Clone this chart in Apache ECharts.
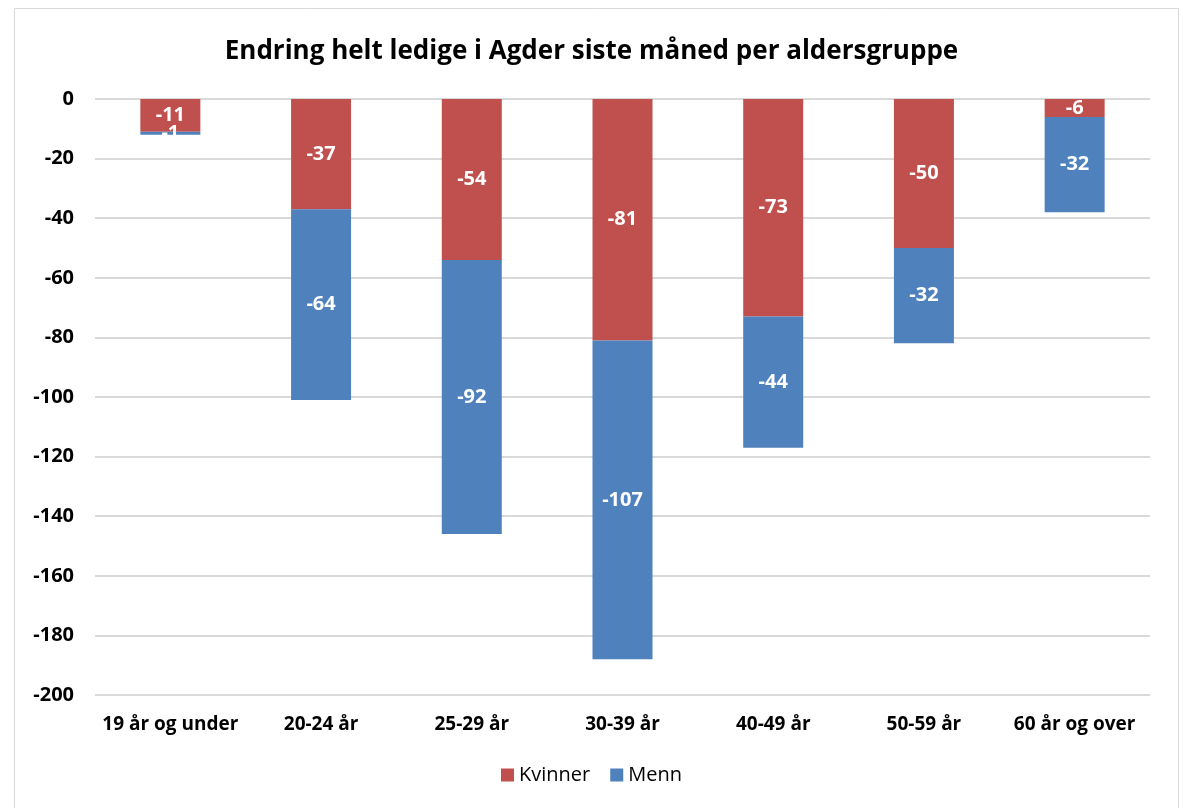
<!DOCTYPE html>
<html><head><meta charset="utf-8">
<script src="https://cdn.jsdelivr.net/npm/echarts@6/dist/echarts.min.js"></script>
<style>html,body{margin:0;padding:0;background:#fff}#c{width:1183px;height:808px}</style>
</head><body><div id="c"></div>
<script>
const categories = ['19 år og under','20-24 år','25-29 år','30-39 år','40-49 år','50-59 år','60 år og over'];
const kvinner = [-11,-37,-54,-81,-73,-50,-6];
const menn = [-1,-64,-92,-107,-44,-32,-32];
const yTicks = {min:-200,max:0,interval:20};
const FONT = '"Open Sans", sans-serif';
const chart = echarts.init(document.getElementById('c'));
const lbl = {show:true,position:'inside',color:'#fff',fontWeight:'bold',fontSize:20,fontFamily:FONT};
chart.setOption({
  animation:false,
  title:{text:'Endring helt ledige i Agder siste måned per aldersgruppe',left:'center',top:34,
    textStyle:{fontFamily:FONT,fontWeight:'bold',fontSize:26,color:'#000'}},
  graphic:[{type:'rect',shape:{x:14.5,y:8.5,width:1164,height:820},style:{fill:'none',stroke:'#d9d9d9',lineWidth:1},silent:true}],
  legend:{bottom:18,left:'center',itemWidth:13,itemHeight:13,itemGap:20,icon:'rect',
    textStyle:{fontFamily:FONT,fontSize:20,color:'#000'},data:['Kvinner','Menn']},
  grid:{left:95,right:33,top:99,bottom:113,containLabel:false},
  xAxis:{type:'category',data:categories,axisLine:{show:false},axisTick:{show:false},
    axisLabel:{interval:0,fontFamily:FONT,fontWeight:'bold',fontSize:19,color:'#000',margin:20}},
  yAxis:{type:'value',min:yTicks.min,max:yTicks.max,interval:yTicks.interval,
    axisLine:{show:false},axisTick:{show:false},
    axisLabel:{fontFamily:FONT,fontWeight:'bold',fontSize:20,color:'#000',margin:21},
    splitLine:{lineStyle:{color:'#d9d9d9',width:2}}},
  series:[
    {name:'Kvinner',type:'bar',stack:'a',data:kvinner,barWidth:60,itemStyle:{color:'#C0504D'},label:lbl},
    {name:'Menn',type:'bar',stack:'a',data:menn,barWidth:60,itemStyle:{color:'#4F81BD'},label:lbl}
  ]
});
</script></body></html>
